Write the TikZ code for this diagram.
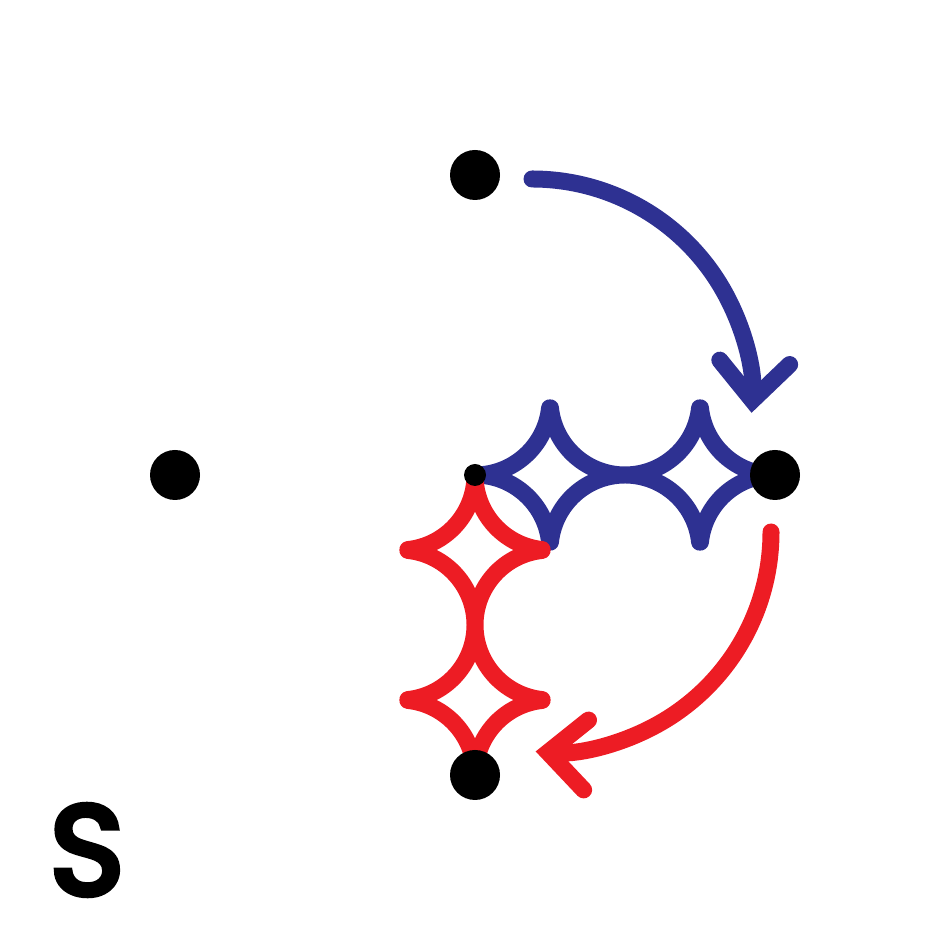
\documentclass[tikz,border=0pt]{standalone}
\usepackage{fontspec}
\usetikzlibrary{positioning,arrows.meta}
\definecolor{starblue}{HTML}{2E3192}
\definecolor{starred}{HTML}{ED1C24}
\newfontfamily\labelfont{Poppins}[FakeBold=5]
% one concave quarter (or half) arc of a four-pointed star
\newcommand{\cusp}[3]{(#1) ++(#2:0.75) arc[start angle=#2,end angle=#3,radius=0.75]}

\begin{document}
\begin{tikzpicture}[node distance=3cm,
    >={Straight Barb[length=3.8mm,width=7mm,line cap=round,line join=miter]},
    dot/.style={circle,fill=black,inner sep=0pt,minimum size=5mm},
    chain/.style={line width=1.7mm,line cap=round},
    turn/.style={line width=1.7mm,line cap=round,->}]
    \useasboundingbox (0,0) rectangle (9.5,9.5);

    % star chains
    \draw[chain, starblue] \cusp{4.75,5.5}{270}{354} \cusp{6.25,5.5}{186}{354} \cusp{7.75,5.5}{186}{270}
        \cusp{4.75,4}{90}{6} \cusp{6.25,4}{174}{6} \cusp{7.75,4}{174}{90};
    \draw[chain, starred] \cusp{4,4.75}{0}{-84} \cusp{4,3.25}{84}{-84} \cusp{4,1.75}{84}{0}
        \cusp{5.5,4.75}{180}{264} \cusp{5.5,3.25}{96}{264} \cusp{5.5,1.75}{96}{180};

    \node (mid) at (4.75,4.75) [dot, minimum size=2.2mm] {};
    \node (north) [dot, above of=mid] {};
    \node (west) [dot, left of=mid] {};
    \node (east) [dot, right of=mid] {};
    \node (south) [dot, below of=mid] {};
    \node (label) at (0.87,1.0) {\labelfont\fontsize{36}{36}\selectfont S};

    \coordinate (bstart) at ([xshift=5.7mm,yshift=-0.4mm]north.center);
    \coordinate (rstart) at ([xshift=-0.4mm,yshift=-5.7mm]east.center);
    \draw[turn, starblue] (bstart) arc[start angle=90,end angle=-3.6,radius=2.2];
    \draw[turn, starred] (rstart) arc[start angle=0,end angle=-94,radius=2.2];
\end{tikzpicture}
\end{document}
